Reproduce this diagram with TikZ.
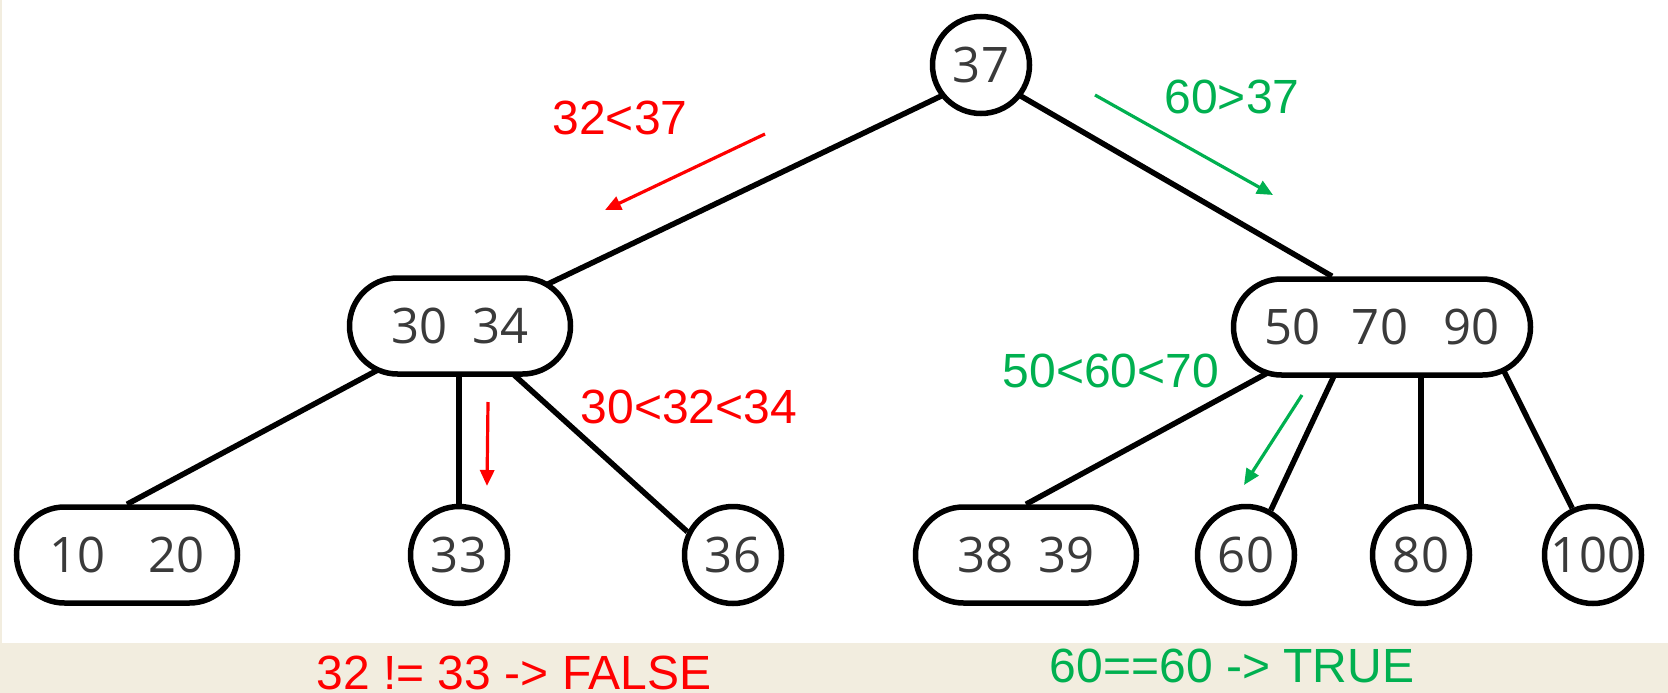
\documentclass[tikz,border=0pt]{standalone}
\usepackage{fontspec}
\setmainfont{Liberation Sans}
\newfontfamily\keyfont{Open Sans}
\usetikzlibrary{arrows.meta,backgrounds,shapes.misc}
\definecolor{ink}{HTML}{000000}
\definecolor{keytext}{HTML}{3A3A3A}
\definecolor{nope}{HTML}{FF0000}
\definecolor{yes}{HTML}{00B050}
\definecolor{paper}{HTML}{F2EDDF}

\begin{document}
\begin{tikzpicture}[x=1pt,y=-1pt,
  key/.style={draw=ink,fill=white,line width=5.5pt,text=keytext,inner sep=0pt,font=\keyfont\fontsize{49pt}{49pt}\selectfont},
  onekey/.style={key,circle,minimum size=97pt},
  twokey/.style={key,rounded rectangle,minimum width=221pt,minimum height=96pt},
  link/.style={ink,line width=5.5pt},
  cmp/.style={anchor=base,inner sep=0pt,font=\fontsize{48pt}{48pt}\selectfont},
  walk/.style={line width=3.2pt,-{Triangle[length=16pt,width=14pt]}}]
  \useasboundingbox (0,0) rectangle (1668,693);
  % the tree
  \node[onekey] (k37) at (981,65) {37};
  \node[twokey] (k3034) at (460,326) {30\hspace{25pt}34};
  \node[twokey,minimum width=297pt] (k507090) at (1382,327) {50\hspace{31pt}70\hspace{35pt}90};
  \node[twokey] (k1020) at (127,555) {10\hspace{42pt}20};
  \node[onekey] (k33) at (459,555) {33};
  \node[onekey] (k36) at (733,555) {36};
  \node[twokey] (k3839) at (1026,555) {38\hspace{25pt}39};
  \node[onekey] (k60) at (1246,555) {60};
  \node[onekey] (k80) at (1421,555) {80};
  \node[onekey] (k100) at (1593,555) {100};
  \begin{scope}[on background layer]
    \fill[paper] (0,0) rectangle (1668,693);
    \fill[white] (2,0) rectangle (1668,643);
    \draw[link] ([yshift=-12pt]k37.center) -- (k3034.center);
    \draw[link] ([yshift=-8pt]k37.center) -- ([xshift=-50pt]k507090.north);
    \draw[link] (k3034.center) -- (k1020.north);
    \draw[link] (k33.north) -- (k33.north |- k3034.center);
    \draw[link] (k3034.center) -- (k36.153);
    \draw[link] ([xshift=-30pt]k507090.center) -- (k3839.north);
    \draw[link] ([xshift=-25pt]k507090.center) -- (k60.61);
    \draw[link] (k80.north) -- (k80.north |- k507090.center);
    \draw[link] ([xshift=100pt]k507090.center) -- (k100.114);
  \end{scope}
  % search for 32
  \coordinate (n1a) at (765,134); \coordinate (n1b) at (605,210);
  \coordinate (n2a) at (488,402); \coordinate (n2b) at (487,486);
  \draw[walk,nope] (n1a) -- (n1b);
  \draw[walk,nope] (n2a) -- (n2b);
  \node[cmp,text=nope] (lt37) at (620,134) {32<37};
  \node[cmp,text=nope] (in3034) at (689,423) {30<32<34};
  \node[cmp,text=nope] (false) at (514,689) {32 != 33 -> FALSE};
  % search for 60
  \coordinate (y1a) at (1095,95); \coordinate (y1b) at (1273,195);
  \coordinate (y2a) at (1302,395); \coordinate (y2b) at (1244,485);
  \draw[walk,yes] (y1a) -- (y1b);
  \draw[walk,yes] (y2a) -- (y2b);
  \node[cmp,text=yes] (gt37) at (1232,113) {60>37};
  \node[cmp,text=yes] (in5070) at (1111,387) {50<60<70};
  \node[cmp,text=yes] (true) at (1232,682) {60==60 -> TRUE};
\end{tikzpicture}
\end{document}
